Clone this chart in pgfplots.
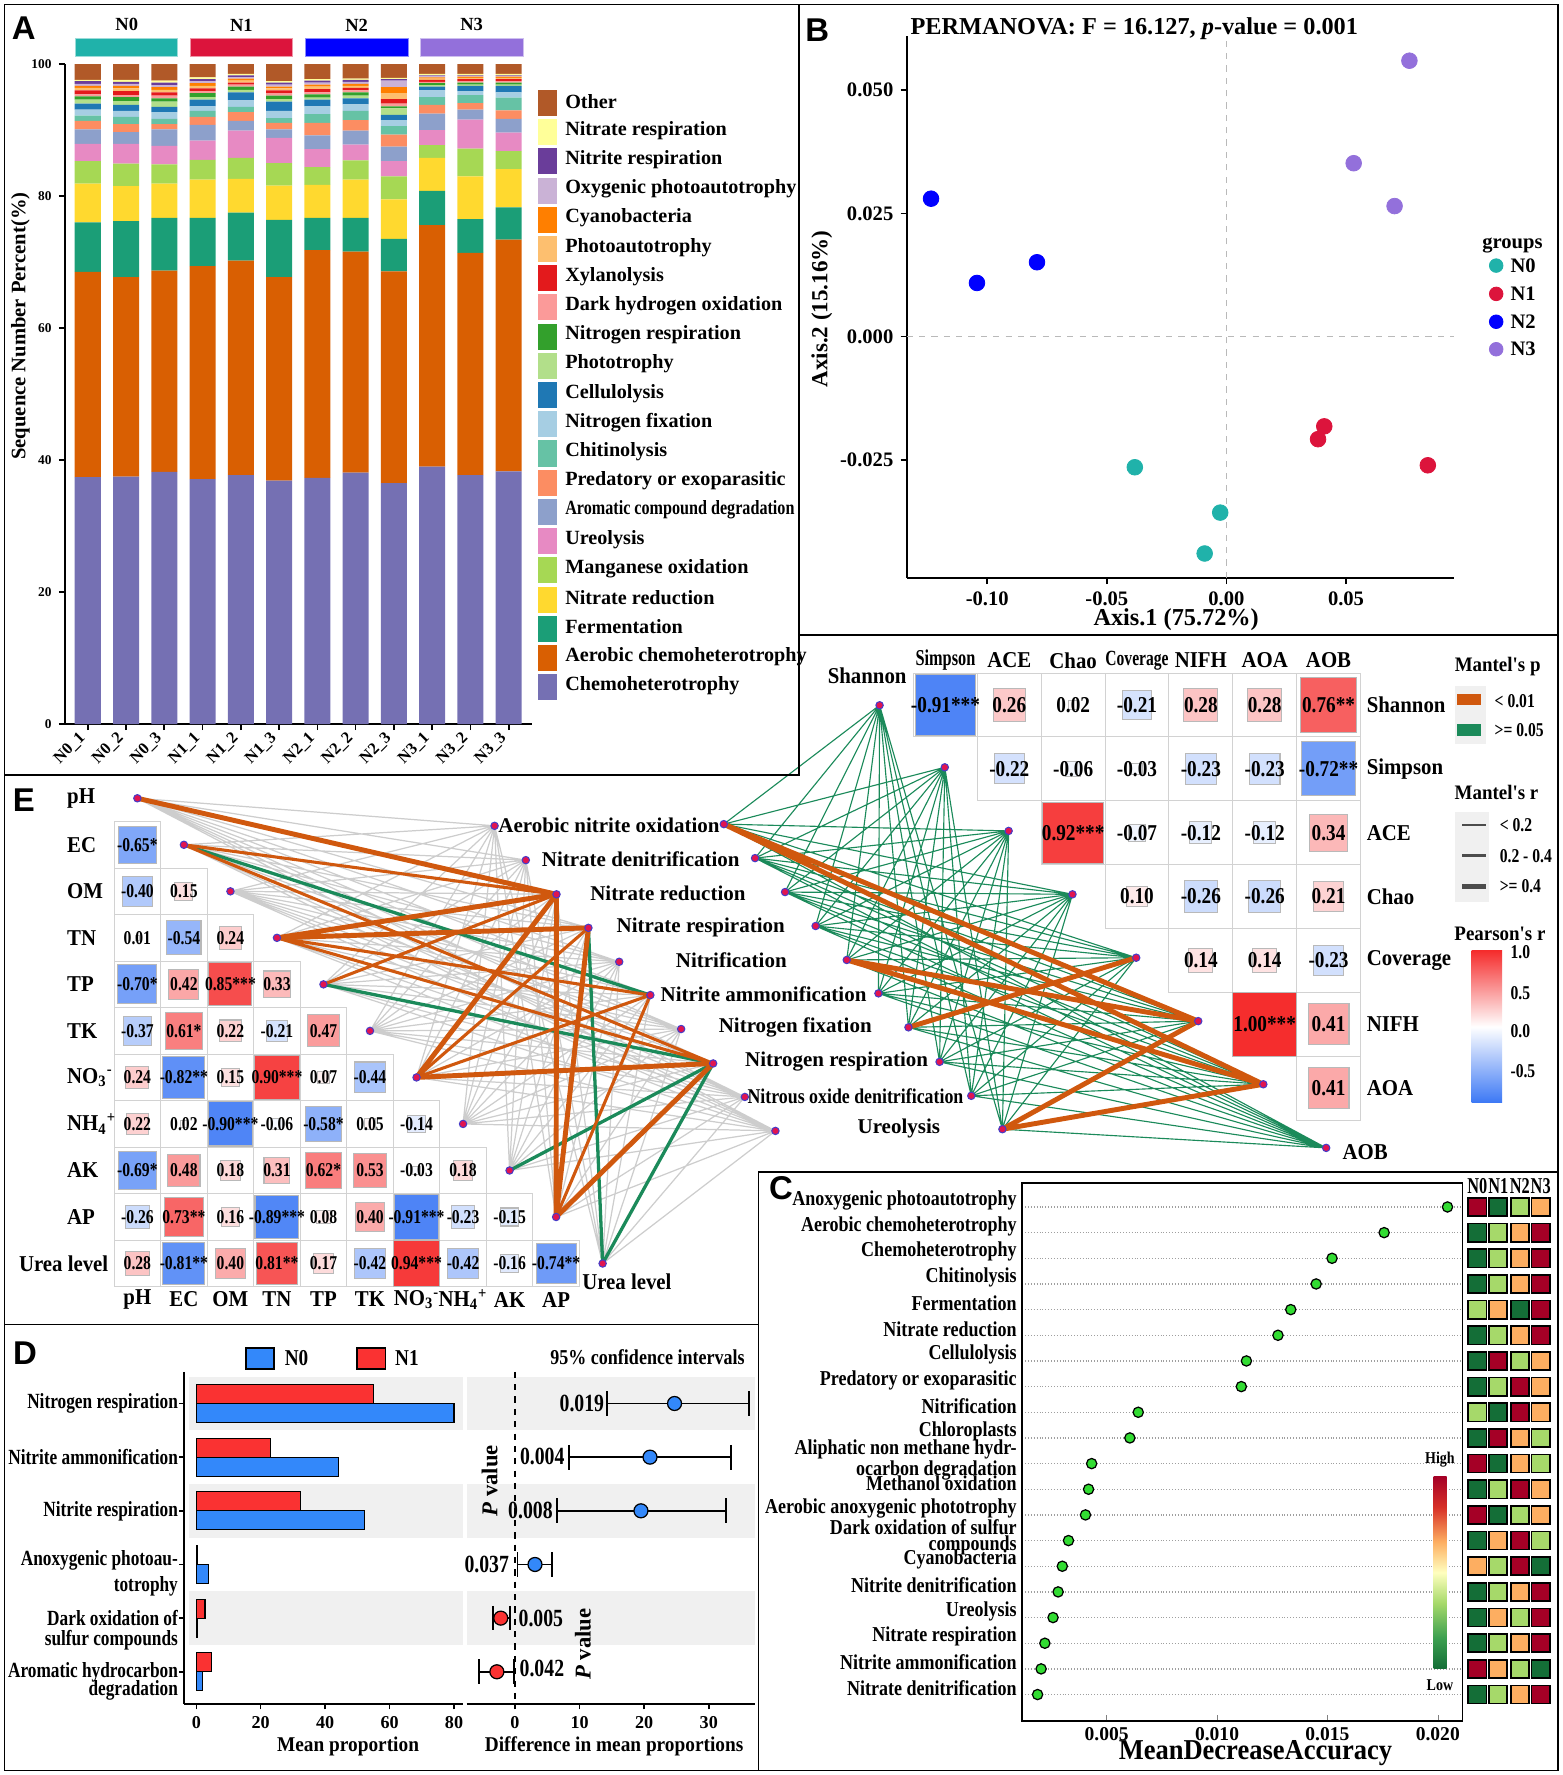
\documentclass[border=0pt]{standalone}
\usepackage{fontspec}
\setmainfont{Liberation Serif}
\newfontfamily\fSans{Liberation Sans}
\newfontfamily\fA[FakeStretch=0.92]{Liberation Serif}
\newfontfamily\fB[FakeStretch=0.85]{Liberation Serif}
\newfontfamily\fC[FakeStretch=0.8]{Liberation Serif}
\newfontfamily\fD[FakeStretch=0.72]{Liberation Serif}
\usepackage{pgfplots}
\usepackage{pgfplotstable}
\pgfplotsset{compat=1.18}
\newcommand\fs[1]{\fontsize{#1}{#1}\selectfont}

\definecolor{cOther}{HTML}{B15928}
\definecolor{cNitrateR}{HTML}{FFFF99}
\definecolor{cNitriteR}{HTML}{6A3D9A}
\definecolor{cOxy}{HTML}{CAB2D6}
\definecolor{cCyano}{HTML}{FF7F00}
\definecolor{cPhotoauto}{HTML}{FDBF6F}
\definecolor{cXylan}{HTML}{E31A1C}
\definecolor{cDarkH}{HTML}{FB9A99}
\definecolor{cNResp}{HTML}{33A02C}
\definecolor{cPhotot}{HTML}{B2DF8A}
\definecolor{cCellu}{HTML}{1F78B4}
\definecolor{cNfix}{HTML}{A6CEE3}
\definecolor{cChit}{HTML}{66C2A5}
\definecolor{cPred}{HTML}{FC8D62}
\definecolor{cArom}{HTML}{8DA0CB}
\definecolor{cUreo}{HTML}{E78AC3}
\definecolor{cMn}{HTML}{A6D854}
\definecolor{cNitRed}{HTML}{FFD92F}
\definecolor{cFerm}{HTML}{1B9E77}
\definecolor{cAer}{HTML}{D95F02}
\definecolor{cChemo}{HTML}{7570B3}
\definecolor{gN0}{HTML}{20B2AA}
\definecolor{gN1}{HTML}{DC143C}
\definecolor{gN2}{HTML}{0000FF}
\definecolor{gN3}{HTML}{9370DB}
\definecolor{eOrange}{RGB}{208,88,14}
\definecolor{eGreen}{RGB}{27,138,90}
\definecolor{eGray}{RGB}{205,205,205}
\definecolor{nodeF}{RGB}{225,20,80}
\definecolor{nodeD}{RGB}{70,60,200}
\definecolor{pBlue}{RGB}{60,120,245}
\definecolor{pRed}{RGB}{245,45,45}
\definecolor{hDk}{RGB}{20,110,55}
\definecolor{hMg}{RGB}{60,160,80}
\definecolor{hLt}{RGB}{166,217,106}
\definecolor{hYl}{RGB}{255,255,191}
\definecolor{hOr}{RGB}{253,174,97}
\definecolor{hRm}{RGB}{215,48,39}
\definecolor{hRd}{RGB}{165,0,38}
\definecolor{dotG}{RGB}{50,220,50}
\definecolor{dBlue}{RGB}{51,136,250}
\definecolor{dRed}{RGB}{250,50,50}
\definecolor{bandG}{RGB}{240,240,240}

\pgfdeclareverticalshading{hlshade}{100bp}{color(0bp)=(hDk); color(25bp)=(hDk); color(33bp)=(hMg); color(42bp)=(hLt); color(50bp)=(hYl); color(58bp)=(hOr); color(67bp)=(hRm); color(75bp)=(hRd); color(100bp)=(hRd)}
\pgfplotsset{colormap={pearson}{rgb255(0cm)=(60,120,245); rgb255(1cm)=(255,255,255); rgb255(2cm)=(245,45,45)}}

% network nodes (pixel coordinates of the layout)
\def\envN{121.35/705.15,162.45/746.25,203.55/787.35,244.65/828.45,285.75/869.55,326.85/910.65,367.95/951.75,409.05/992.85,450.15/1033.95,491.25/1075.05,532.35/1116.15}
\def\funL{436.9/729.5,464.5/759.8,491.6/790,519.8/819.6,547/849.6,574.5/879,601.7/909,630/939.4,658/969,685/999}
\def\funR{639.4/728,667/758,693.5/788,720.5/818,748/848,776/877.5,802.5/907.5,830/938,858/968,885.5/997.5}
\def\divN{777/623,834.6/677.8,891/734,947.4/790,1003.7/846,1058.5/902,1116/957.8,1171.5/1014}
\gdef\grayE{}
\foreach \ax/\ay in \envN {\foreach \bx/\by in \funL {\xdef\grayE{\grayE(\ax,\ay)(\bx,\by)(nan,nan)}}}
\gdef\greenE{}
\foreach \ax/\ay in \funR {\foreach \bx/\by in \divN {\xdef\greenE{\greenE(\ax,\ay)(\bx,\by)(nan,nan)}}}
\newcommand\edgeplot[2]{\addplot[#2] coordinates {#1};}

\pgfplotstableread{
x y r lab
835.2 622.8 -0.91 -0.91***
891.6 622.8 0.26 0.26
948 622.8 0.02 0.02
1004.4 622.8 -0.21 -0.21
1060.8 622.8 0.28 0.28
1117.2 622.8 0.28 0.28
1173.6 622.8 0.76 0.76**
891.6 679.2 -0.22 -0.22
948 679.2 -0.06 -0.06
1004.4 679.2 -0.03 -0.03
1060.8 679.2 -0.23 -0.23
1117.2 679.2 -0.23 -0.23
1173.6 679.2 -0.72 -0.72**
948 735.6 0.92 0.92***
1004.4 735.6 -0.07 -0.07
1060.8 735.6 -0.12 -0.12
1117.2 735.6 -0.12 -0.12
1173.6 735.6 0.34 0.34
1004.4 792 0.10 0.10
1060.8 792 -0.26 -0.26
1117.2 792 -0.26 -0.26
1173.6 792 0.21 0.21
1060.8 848.4 0.14 0.14
1117.2 848.4 0.14 0.14
1173.6 848.4 -0.23 -0.23
1117.2 904.8 1.00 1.00***
1173.6 904.8 0.41 0.41
1173.6 961.2 0.41 0.41
}\mantel

\pgfplotstableread{
x y r lab
121.35 746.25 -0.65 -0.65*
121.35 787.35 -0.40 -0.40
162.45 787.35 0.15 0.15
121.35 828.45 0.01 0.01
162.45 828.45 -0.54 -0.54
203.55 828.45 0.24 0.24
121.35 869.55 -0.70 -0.70*
162.45 869.55 0.42 0.42
203.55 869.55 0.85 0.85***
244.65 869.55 0.33 0.33
121.35 910.65 -0.37 -0.37
162.45 910.65 0.61 0.61*
203.55 910.65 0.22 0.22
244.65 910.65 -0.21 -0.21
285.75 910.65 0.47 0.47
121.35 951.75 0.24 0.24
162.45 951.75 -0.82 -0.82**
203.55 951.75 0.15 0.15
244.65 951.75 0.90 0.90***
285.75 951.75 0.07 0.07
326.85 951.75 -0.44 -0.44
121.35 992.85 0.22 0.22
162.45 992.85 0.02 0.02
203.55 992.85 -0.90 -0.90***
244.65 992.85 -0.06 -0.06
285.75 992.85 -0.58 -0.58*
326.85 992.85 0.05 0.05
367.95 992.85 -0.14 -0.14
121.35 1033.95 -0.69 -0.69*
162.45 1033.95 0.48 0.48
203.55 1033.95 0.18 0.18
244.65 1033.95 0.31 0.31
285.75 1033.95 0.62 0.62*
326.85 1033.95 0.53 0.53
367.95 1033.95 -0.03 -0.03
409.05 1033.95 0.18 0.18
121.35 1075.05 -0.26 -0.26
162.45 1075.05 0.73 0.73**
203.55 1075.05 0.16 0.16
244.65 1075.05 -0.89 -0.89***
285.75 1075.05 0.08 0.08
326.85 1075.05 0.40 0.40
367.95 1075.05 -0.91 -0.91***
409.05 1075.05 -0.23 -0.23
450.15 1075.05 -0.15 -0.15
121.35 1116.15 0.28 0.28
162.45 1116.15 -0.81 -0.81**
203.55 1116.15 0.40 0.40
244.65 1116.15 0.81 0.81**
285.75 1116.15 0.17 0.17
326.85 1116.15 -0.42 -0.42
367.95 1116.15 0.94 0.94***
409.05 1116.15 -0.42 -0.42
450.15 1116.15 -0.16 -0.16
491.25 1116.15 -0.74 -0.74**
}\etab

\pgfplotstableread{
i a b c d
0 r g l o
1 g l o r
2 g l o r
3 g l o r
4 l o g r
5 g l o r
6 g r l o
7 g l r o
8 l g r o
9 g r o l
10 r g o l
11 g l r o
12 r g l o
13 g o r l
14 o l r g
15 g l o r
16 g o l r
17 g l o r
18 r o l g
19 g l o r
}\heat

\pgfplotstableread{
i v
0 0.02044
1 0.01757
2 0.01521
3 0.01449
4 0.01334
5 0.01276
6 0.01133
7 0.01110
8 0.00643
9 0.00605
10 0.00432
11 0.00418
12 0.00404
13 0.00327
14 0.00299
15 0.00280
16 0.00257
17 0.00220
18 0.00203
19 0.00187
}\ctab

\begin{document}
\begin{tikzpicture}
\begin{scope}[x=0.55pt,y=-0.55pt]
\path[use as bounding box] (0,0) rectangle (1380,1568);
\foreach \i in {0,...,6}{\foreach \j in {\i,...,6}{\draw[gray!35, line width=0.5pt] ({807+56.4*\j},{594.6+56.4*\i}) rectangle ++(56.4,56.4);}}
\foreach \r in {0,...,9}{\foreach \cc in {0,...,\r}{\draw[gray!35, line width=0.5pt] ({100.8+41.1*\cc},{725.7+41.1*\r}) rectangle ++(41.1,41.1);}}
\end{scope}

% ---------- overlay axis in layout pixels ----------
\begin{axis}[at={(0pt,0pt)}, anchor=north west, scale only axis, width=759pt, height=862.4pt,
 xmin=0, xmax=1380, ymin=0, ymax=1568, y dir=reverse, axis lines=none, clip=false,
 unbounded coords=jump, filter discard warning=false, colormap name=pearson,
 point meta min=-1, point meta max=1]
\expandafter\edgeplot\expandafter{\grayE}{color=eGray, line width=0.6pt}
\expandafter\edgeplot\expandafter{\greenE}{color=eGreen, line width=0.55pt}
\addplot[eGreen, line width=1.6pt] coordinates {
(162.45,746.25)(574.5,879)(nan,nan)
(285.75,869.55)(630,939.4)(nan,nan)
(450.15,1033.95)(630,939.4)(nan,nan)
(532.35,1116.15)(519.8,819.6)(nan,nan)
(532.35,1116.15)(630,939.4)};
\addplot[eOrange, line width=1.5pt] coordinates {
(162.45,746.25)(491.6,790)(nan,nan)
(162.45,746.25)(630,939.4)(nan,nan)
(244.65,828.45)(574.5,879)(nan,nan)
(244.65,828.45)(630,939.4)(nan,nan)
(285.75,869.55)(491.6,790)(nan,nan)
(367.95,951.75)(519.8,819.6)(nan,nan)
(367.95,951.75)(574.5,879)(nan,nan)
(491.25,1075.05)(574.5,879)};
\addplot[eOrange, line width=2.4pt] coordinates {
(121.35,705.15)(491.6,790)(nan,nan)
(244.65,828.45)(491.6,790)(nan,nan)
(244.65,828.45)(519.8,819.6)(nan,nan)
(367.95,951.75)(491.6,790)(nan,nan)
(367.95,951.75)(630,939.4)(nan,nan)
(491.25,1075.05)(491.6,790)(nan,nan)
(491.25,1075.05)(519.8,819.6)(nan,nan)
(491.25,1075.05)(630,939.4)(nan,nan)
(639.4,728)(1058.5,902)(nan,nan)
(639.4,728)(1116,957.8)(nan,nan)
(748,848)(1058.5,902)(nan,nan)
(748,848)(1116,957.8)(nan,nan)
(802.5,907.5)(1003.7,846)(nan,nan)
(885.5,997.5)(1058.5,902)(nan,nan)
(885.5,997.5)(1116,957.8)};
\addplot[only marks, mark=*, mark size=1.8pt, mark options={fill=nodeF, draw=nodeD, line width=0.5pt}] coordinates {
(121.35,705.15)(162.45,746.25)(203.55,787.35)(244.65,828.45)(285.75,869.55)(326.85,910.65)(367.95,951.75)(409.05,992.85)(450.15,1033.95)(491.25,1075.05)(532.35,1116.15)
(436.9,729.5)(464.5,759.8)(491.6,790)(519.8,819.6)(547,849.6)(574.5,879)(601.7,909)(630,939.4)(658,969)(685,999)
(639.4,728)(667,758)(693.5,788)(720.5,818)(748,848)(776,877.5)(802.5,907.5)(830,938)(858,968)(885.5,997.5)
(777,623)(834.6,677.8)(891,734)(947.4,790)(1003.7,846)(1058.5,902)(1116,957.8)(1171.5,1014)};
% Mantel / Pearson squares
\addplot[scatter, only marks, mark=square*, line width=0.5pt, point meta=\thisrow{r},
 scatter/use mapped color={draw=gray!55, fill=mapped color},
 visualization depends on={15.51*sqrt(abs(\thisrow{r})) \as \msz},
 scatter/@pre marker code/.append style={/tikz/mark size=\msz}] table[x=x,y=y] {\mantel};
\addplot[draw=none, mark=none, nodes near coords, point meta=explicit symbolic, nodes near coords align={center},
 every node near coord/.append style={font=\fB\bfseries\fs{11}, inner sep=0pt, anchor=center}] table[x=x,y=y,meta=lab] {\mantel};
\addplot[scatter, only marks, mark=square*, line width=0.5pt, point meta=\thisrow{r},
 scatter/use mapped color={draw=gray!55, fill=mapped color},
 visualization depends on={11.30*sqrt(abs(\thisrow{r})) \as \msz},
 scatter/@pre marker code/.append style={/tikz/mark size=\msz}] table[x=x,y=y] {\etab};
\addplot[draw=none, mark=none, nodes near coords, point meta=explicit symbolic, nodes near coords align={center},
 every node near coord/.append style={font=\fC\bfseries\fs{9.5}, inner sep=0pt, anchor=center}] table[x=x,y=y,meta=lab] {\etab};
% C heatmap
\pgfplotsset{hcls/.style={scatter, only marks, mark=square*, mark size=4.4pt, line width=0.8pt, scatter src=explicit symbolic,
 scatter/classes={g={mark=square*, fill=hDk, draw=black}, l={mark=square*, fill=hLt, draw=black}, o={mark=square*, fill=hOr, draw=black}, r={mark=square*, fill=hRd, draw=black}}}}
\addplot[hcls] table[x expr=1305, y expr=1066.2+22.67*\thisrow{i}, meta=a] {\heat};
\addplot[hcls] table[x expr=1323.5, y expr=1066.2+22.67*\thisrow{i}, meta=b] {\heat};
\addplot[hcls] table[x expr=1342.5, y expr=1066.2+22.67*\thisrow{i}, meta=c] {\heat};
\addplot[hcls] table[x expr=1361, y expr=1066.2+22.67*\thisrow{i}, meta=d] {\heat};
% B legend markers
\addplot[only marks, mark=*, mark size=3.3pt, color=gN0] coordinates {(1321.7,234.6)};
\addplot[only marks, mark=*, mark size=3.3pt, color=gN1] coordinates {(1321.7,259.6)};
\addplot[only marks, mark=*, mark size=3.3pt, color=gN2] coordinates {(1321.7,284.2)};
\addplot[only marks, mark=*, mark size=3.3pt, color=gN3] coordinates {(1321.7,308.5)};
\end{axis}

% ---------- A: stacked bars ----------
\begin{axis}[at={(31.57pt,-351.78pt)}, anchor=south west, scale only axis, width=226.93pt, height=320.65pt,
 xmin=-0.595, xmax=11.61, ymin=0, ymax=100, ybar stacked, bar width=0.68,
 axis x line=bottom, axis y line=left, axis line style={-, line width=1pt},
 xtick={0,...,11}, xticklabels={N0\_1,N0\_2,N0\_3,N1\_1,N1\_2,N1\_3,N2\_1,N2\_2,N2\_3,N3\_1,N3\_2,N3\_3},
 xticklabel style={rotate=45, anchor=east, font=\bfseries\fs{8}},
 ytick={0,20,40,60,80,100}, yticklabels={0,20,40,60,80,100}, yticklabel style={font=\bfseries\fs{6.5}},
 tick align=outside, major tick length=3pt, tick style={black, line width=0.8pt}, clip=false]
\addplot[fill=cChemo, draw=none] coordinates {(0,37.4)(1,37.5)(2,38.2)(3,37.1)(4,37.7)(5,36.9)(6,37.3)(7,38.1)(8,36.5)(9,39.0)(10,37.7)(11,38.3)};
\addplot[fill=cAer, draw=none] coordinates {(0,31.1)(1,30.2)(2,30.5)(3,32.3)(4,32.5)(5,30.8)(6,34.5)(7,33.5)(8,32.1)(9,36.6)(10,33.7)(11,35.1)};
\addplot[fill=cFerm, draw=none] coordinates {(0,7.5)(1,8.5)(2,8.0)(3,7.3)(4,7.3)(5,8.7)(6,4.9)(7,5.1)(8,4.9)(9,5.2)(10,5.1)(11,4.9)};
\addplot[fill=cNitRed, draw=none] coordinates {(0,5.9)(1,5.3)(2,5.2)(3,5.8)(4,5.1)(5,5.2)(6,5.0)(7,5.8)(8,6.0)(9,5.0)(10,6.5)(11,5.8)};
\addplot[fill=cMn, draw=none] coordinates {(0,3.4)(1,3.4)(2,2.9)(3,3.0)(4,3.2)(5,3.4)(6,2.7)(7,2.9)(8,3.5)(9,1.9)(10,4.2)(11,2.7)};
\addplot[fill=cUreo, draw=none] coordinates {(0,2.6)(1,3.0)(2,2.8)(3,2.9)(4,4.1)(5,3.8)(6,2.7)(7,2.4)(8,2.3)(9,2.3)(10,4.4)(11,2.8)};
\addplot[fill=cArom, draw=none] coordinates {(0,2.2)(1,1.8)(2,2.5)(3,2.4)(4,1.5)(5,1.3)(6,2.1)(7,2.1)(8,2.2)(9,2.5)(10,1.5)(11,2.1)};
\addplot[fill=cPred, draw=none] coordinates {(0,1.3)(1,1.2)(2,0.8)(3,1.2)(4,1.3)(5,1.0)(6,1.9)(7,1.6)(8,1.8)(9,1.3)(10,1.0)(11,1.3)};
\addplot[fill=cChit, draw=none] coordinates {(0,0.8)(1,1.1)(2,0.8)(3,0.9)(4,0.8)(5,0.7)(6,1.3)(7,1.4)(8,1.3)(9,1.2)(10,1.2)(11,1.9)};
\addplot[fill=cNfix, draw=none] coordinates {(0,0.9)(1,0.9)(2,1.0)(3,0.7)(4,1.0)(5,1.1)(6,1.2)(7,1.0)(8,0.9)(9,1.0)(10,0.6)(11,0.8)};
\addplot[fill=cCellu, draw=none] coordinates {(0,0.9)(1,0.9)(2,0.8)(3,1.0)(4,1.2)(5,1.4)(6,1.0)(7,0.9)(8,0.8)(9,0.6)(10,0.8)(11,1.0)};
\addplot[fill=cPhotot, draw=none] coordinates {(0,0.6)(1,0.6)(2,0.8)(3,0.4)(4,0.4)(5,0.4)(6,0.3)(7,0.4)(8,1.0)(9,0.2)(10,0.2)(11,0.2)};
\addplot[fill=cNResp, draw=none] coordinates {(0,0.5)(1,0.6)(2,0.5)(3,0.6)(4,0.5)(5,0.5)(6,0.5)(7,0.5)(8,0.3)(9,0.3)(10,0.3)(11,0.3)};
\addplot[fill=cDarkH, draw=none] coordinates {(0,0.3)(1,0.3)(2,0.4)(3,0.3)(4,0.3)(5,0.4)(6,0.3)(7,0.3)(8,0.4)(9,0.2)(10,0.2)(11,0.2)};
\addplot[fill=cXylan, draw=none] coordinates {(0,0.6)(1,0.6)(2,0.5)(3,0.4)(4,0.3)(5,0.4)(6,0.5)(7,0.4)(8,0.7)(9,0.3)(10,0.3)(11,0.3)};
\addplot[fill=cPhotoauto, draw=none] coordinates {(0,0.4)(1,0.4)(2,0.4)(3,0.4)(4,0.3)(5,0.3)(6,0.4)(7,0.3)(8,0.9)(9,0.2)(10,0.2)(11,0.2)};
\addplot[fill=cCyano, draw=none] coordinates {(0,0.3)(1,0.4)(2,0.4)(3,0.4)(4,0.3)(5,0.3)(6,0.3)(7,0.3)(8,0.9)(9,0.2)(10,0.2)(11,0.2)};
\addplot[fill=cOxy, draw=none] coordinates {(0,0.3)(1,0.3)(2,0.3)(3,0.3)(4,0.2)(5,0.3)(6,0.3)(7,0.3)(8,1.0)(9,0.2)(10,0.1)(11,0.1)};
\addplot[fill=cNitriteR, draw=none] coordinates {(0,0.4)(1,0.3)(2,0.4)(3,0.3)(4,0.3)(5,0.3)(6,0.3)(7,0.3)(8,0.2)(9,0.1)(10,0.1)(11,0.1)};
\addplot[fill=cNitrateR, draw=none] coordinates {(0,0.2)(1,0.3)(2,0.3)(3,0.3)(4,0.2)(5,0.2)(6,0.2)(7,0.2)(8,0.2)(9,0.2)(10,0.2)(11,0.2)};
\addplot[fill=cOther, draw=none] coordinates {(0,2.4)(1,2.4)(2,2.5)(3,2.0)(4,1.5)(5,2.6)(6,2.3)(7,2.2)(8,2.1)(9,1.5)(10,1.5)(11,1.5)};
\end{axis}

% ---------- B: PCoA ----------
\begin{axis}[at={(440.55pt,-280.775pt)}, anchor=south west, scale only axis, width=265.65pt, height=263.23pt,
 xmin=-0.13365, xmax=0.09494, ymin=-0.04895, ymax=0.06099,
 axis x line=bottom, axis y line=left, axis line style={-, line width=0.9pt},
 xtick={-0.1,-0.05,0,0.05}, xticklabels={-0.10,-0.05,0.00,0.05},
 ytick={-0.025,0,0.025,0.05}, yticklabels={-0.025,0.000,0.025,0.050},
 tick label style={font=\bfseries\fs{10}}, tick align=outside, major tick length=3pt,
 tick style={black, line width=0.8pt}, scaled ticks=false, clip=false]
\addplot[gray!55, dashed, line width=0.5pt] coordinates {(0,-0.04895) (0,0.06099)};
\addplot[gray!55, dashed, line width=0.5pt] coordinates {(-0.13365,0) (0.09494,0)};
\addplot[only marks, mark=*, mark size=3.8pt, color=gN0] coordinates {(-0.0383,-0.0265) (-0.0026,-0.0357) (-0.0091,-0.0440)};
\addplot[only marks, mark=*, mark size=3.8pt, color=gN1] coordinates {(0.0409,-0.0182) (0.0383,-0.0208) (0.0842,-0.0261)};
\addplot[only marks, mark=*, mark size=3.8pt, color=gN2] coordinates {(-0.1235,0.0280) (-0.1043,0.0109) (-0.0792,0.0151)};
\addplot[only marks, mark=*, mark size=3.8pt, color=gN3] coordinates {(0.0765,0.0560) (0.0532,0.0352) (0.0703,0.0265)};
\end{axis}

% ---------- C: importance ----------
\begin{axis}[at={(496.65pt,-836pt)}, anchor=south west, scale only axis, width=213.95pt, height=261.25pt,
 xmin=0.001174, xmax=0.021123, ymin=-0.935, ymax=20.018, y dir=reverse,
 axis line style={line width=0.8pt},
 xtick={0.005,0.01,0.015,0.02}, xticklabels={0.005,0.010,0.015,0.020}, xtick pos=bottom,
 ytick={0,...,19}, yticklabels={}, ytick style={draw=none},
 ymajorgrids, grid style={densely dotted, gray!75, line width=0.6pt},
 tick label style={font=\bfseries\fs{9.5}}, tick align=inside, major tick length=3pt,
 scaled ticks=false, clip=false]
\addplot[only marks, mark=*, mark size=2.5pt, mark options={fill=dotG, draw=black, line width=0.6pt}] table[x=v, y=i] {\ctab};
\end{axis}

% ---------- D: left bars ----------
\begin{axis}[at={(89.485pt,-828.025pt)}, anchor=south west, scale only axis, width=135.355pt, height=161.535pt,
 xmin=-3.76, xmax=82.71, ymin=-0.591, ymax=5.605, y dir=reverse,
 axis x line=bottom, axis y line=left, axis line style={-, line width=0.9pt},
 xtick={0,20,40,60,80}, xticklabels={0,20,40,60,80}, ytick={0,...,5}, yticklabels={},
 tick label style={font=\bfseries\fs{8.8}}, tick align=outside, major tick length=2.5pt,
 tick style={black, line width=0.7pt}, clip=false]
\fill[bandG] (axis cs:-2.4,-0.5) rectangle (axis cs:82.71,0.5);
\fill[bandG] (axis cs:-2.4,1.5) rectangle (axis cs:82.71,2.5);
\fill[bandG] (axis cs:-2.4,3.5) rectangle (axis cs:82.71,4.5);
\addplot[xbar, bar width=0.354, bar shift=0pt, fill=dRed, draw=black, line width=0.6pt] coordinates {(54.9,-0.177) (23.0,0.823) (32.4,1.823) (0.3,2.823) (2.7,3.823) (4.8,4.823)};
\addplot[xbar, bar width=0.354, bar shift=0pt, fill=dBlue, draw=black, line width=0.6pt] coordinates {(80.0,0.177) (44.2,1.177) (52.2,2.177) (3.8,3.177) (0.2,4.177) (2.0,5.177)};
\end{axis}

% ---------- D: right CI ----------
\begin{axis}[at={(226.765pt,-828.025pt)}, anchor=south west, scale only axis, width=140.085pt, height=161.535pt,
 xmin=-7.465, xmax=37.16, ymin=-0.591, ymax=5.605, y dir=reverse,
 axis x line=bottom, axis y line=none, axis line style={-, line width=0.9pt},
 xtick={0,10,20,30}, xticklabels={0,10,20,30}, ytick=\empty,
 tick label style={font=\bfseries\fs{8.8}}, tick align=outside, major tick length=2.5pt,
 tick style={black, line width=0.7pt}, clip=false]
\fill[bandG] (axis cs:-7.465,-0.5) rectangle (axis cs:37.16,0.5);
\fill[bandG] (axis cs:-7.465,1.5) rectangle (axis cs:37.16,2.5);
\fill[bandG] (axis cs:-7.465,3.5) rectangle (axis cs:37.16,4.5);
\addplot[black, dashed, line width=0.8pt] coordinates {(0,-0.591) (0,5.605)};
\addplot[black, line width=0.9pt, mark=|, mark size=6pt, mark options={solid, line width=0.9pt}] coordinates {(14.2,0) (36.2,0)};
\addplot[black, line width=0.9pt, mark=|, mark size=6pt, mark options={solid, line width=0.9pt}] coordinates {(8.4,1) (33.5,1)};
\addplot[black, line width=0.9pt, mark=|, mark size=6pt, mark options={solid, line width=0.9pt}] coordinates {(6.5,2) (32.6,2)};
\addplot[black, line width=0.9pt, mark=|, mark size=6pt, mark options={solid, line width=0.9pt}] coordinates {(0.4,3) (5.7,3)};
\addplot[black, line width=0.9pt, mark=|, mark size=6pt, mark options={solid, line width=0.9pt}] coordinates {(-3.4,4) (-0.75,4)};
\addplot[black, line width=0.9pt, mark=|, mark size=6pt, mark options={solid, line width=0.9pt}] coordinates {(-5.6,5) (-0.15,5)};
\addplot[only marks, mark=*, mark size=3.4pt, mark options={fill=dBlue, draw=black, line width=0.6pt}] coordinates {(24.7,0) (20.9,1) (19.5,2) (3.1,3)};
\addplot[only marks, mark=*, mark size=3.4pt, mark options={fill=dRed, draw=black, line width=0.6pt}] coordinates {(-2.2,4) (-2.8,5)};
\end{axis}

% ---------- texts and frames ----------
\begin{scope}[x=0.55pt,y=-0.55pt, every node/.style={inner sep=0pt}]
\draw[line width=0.9pt] (4,4) rectangle (1376,1564);
\draw[line width=0.9pt] (706,4) -- (706,684.5) -- (4,684.5);
\draw[line width=0.9pt] (706,561) -- (1376,561);
\draw[line width=0.9pt] (4,1170) -- (670,1170);
\draw[line width=0.9pt] (670,1564) -- (670,1035.5) -- (1376,1035.5);
\node[font=\fSans\bfseries\fs{16}] at (21,25) {A};
\node[font=\fSans\bfseries\fs{16}] at (722,27) {B};
\node[font=\fSans\bfseries\fs{16}] at (690,1050) {C};
\node[font=\fSans\bfseries\fs{16}] at (22,1195) {D};
\node[font=\fSans\bfseries\fs{16}] at (21,707) {E};
% A
\filldraw[fill=gN0, draw=gN0!45!white, line width=0.4pt] (66.3,34) rectangle (157,49.5);
\filldraw[fill=gN1, draw=gN1!45!white, line width=0.4pt] (167.9,34) rectangle (258.6,49.5);
\filldraw[fill=gN2, draw=gN2!45!white, line width=0.4pt] (269.5,34) rectangle (360.7,49.5);
\filldraw[fill=gN3, draw=gN3!45!white, line width=0.4pt] (371,34) rectangle (462.3,49.5);
\node[font=\bfseries\fs{9}] at (112,22) {N0};
\node[font=\bfseries\fs{9}] at (213.2,22) {N1};
\node[font=\bfseries\fs{9}] at (315,22) {N2};
\node[font=\bfseries\fs{9}] at (416.6,22) {N3};
\node[rotate=90, font=\bfseries\fs{10}] at (18,288) {Sequence Number Percent(\%)};
\foreach \k/\cc/\nn in {0/cOther/Other,1/cNitrateR/Nitrate respiration,2/cNitriteR/Nitrite respiration,3/cOxy/Oxygenic photoautotrophy,4/cCyano/Cyanobacteria,5/cPhotoauto/Photoautotrophy,6/cXylan/Xylanolysis,7/cDarkH/Dark hydrogen oxidation,8/cNResp/Nitrogen respiration,9/cPhotot/Phototrophy,10/cCellu/Cellulolysis,11/cNfix/Nitrogen fixation,12/cChit/Chitinolysis,13/cPred/Predatory or exoparasitic,14/cArom/{\fC Aromatic compound degradation},15/cUreo/Ureolysis,16/cMn/Manganese oxidation,17/cNitRed/Nitrate reduction,18/cFerm/Fermentation,19/cAer/Aerobic chemoheterotrophy,20/cChemo/Chemoheterotrophy}
{\fill[\cc] (475,{79.5+25.8*\k}) rectangle (492,{102.5+25.8*\k});
 \node[anchor=west, font=\bfseries\fs{9.8}] at (499,{89.5+25.8*\k}) {\nn};}
% B
\node[font=\bfseries\fs{11.8}] at (1002,25) {PERMANOVA: F = 16.127, \textit{p}-value = 0.001};
\node[font=\bfseries\fs{11.8}] at (1039,547) {Axis.1 (75.72\%)};
\node[rotate=90, font=\bfseries\fs{11.2}] at (726,273) {Axis.2 (15.16\%)};
\node[font=\bfseries\fs{10}] at (1336,217) {groups};
\foreach \nn/\yy in {N0/234.6,N1/259.6,N2/284.2,N3/308.5} \node[anchor=west,font=\bfseries\fs{10}] at (1334,\yy) {\nn};
% Mantel heatmap labels
\node[font=\fD\bfseries\fs{11}] at (835.2,583.4) {Simpson};
\node[font=\fA\bfseries\fs{11}] at (891.6,583.4) {ACE};
\node[font=\fA\bfseries\fs{11}] at (948,583.4) {Chao};
\node[font=\fD\bfseries\fs{10.5}] at (1004.4,583.4) {Coverage};
\node[font=\fA\bfseries\fs{11}] at (1060.8,583.4) {NIFH};
\node[font=\fA\bfseries\fs{11}] at (1117.2,583.4) {AOA};
\node[font=\fA\bfseries\fs{11}] at (1173.6,583.4) {AOB};
\foreach \nn/\yy in {Shannon/622.8,Simpson/679.2,ACE/735.6,Chao/792,Coverage/848.4,NIFH/904.8,AOA/961.2} \node[anchor=west,font=\fA\bfseries\fs{11}] at (1207,\yy) {\nn};
\node[font=\fA\bfseries\fs{11}] at (766,597) {Shannon};
\node[font=\fA\bfseries\fs{11}] at (1206,1018) {AOB};
% Mantel legend
\node[font=\fA\bfseries\fs{10}] at (1323,589) {Mantel's p};
\fill[gray!12] (1285,606) rectangle (1313,657);
\fill[eOrange] (1287.5,613) rectangle (1308.5,623);
\fill[eGreen] (1287.5,640) rectangle (1308.5,650);
\node[anchor=west, font=\fC\bfseries\fs{9.5}] at (1320,619) {< 0.01};
\node[anchor=west, font=\fC\bfseries\fs{9.5}] at (1320,645) {>= 0.05};
\node[font=\fA\bfseries\fs{10}] at (1322,700) {Mantel's r};
\fill[gray!12] (1285,717) rectangle (1315,797);
\draw[black!70, line width=0.8pt] (1291.8,729) -- (1312.8,729);
\draw[black!70, line width=1.6pt] (1291.8,756) -- (1312.8,756);
\draw[black!70, line width=2.6pt] (1291.8,783) -- (1312.8,783);
\node[anchor=west, font=\fC\bfseries\fs{9.5}] at (1324.5,729) {< 0.2};
\node[anchor=west, font=\fC\bfseries\fs{9.5}] at (1324.5,756) {0.2 - 0.4};
\node[anchor=west, font=\fC\bfseries\fs{9.5}] at (1324.5,783) {>= 0.4};
\node[font=\fA\bfseries\fs{10}] at (1325,825) {Pearson's r};
\shade[bottom color=pBlue, top color=pRed, middle color=white] (1300,840) rectangle (1327,974);
\node[anchor=west, font=\fC\bfseries\fs{9.5}] at (1334,841) {1.0};
\node[anchor=west, font=\fC\bfseries\fs{9.5}] at (1334,877) {0.5};
\node[anchor=west, font=\fC\bfseries\fs{9.5}] at (1334,911) {0.0};
\node[anchor=west, font=\fC\bfseries\fs{9.5}] at (1334,946) {-0.5};
% E labels
\foreach \nn/\yy in {pH/705.15,EC/746.25,OM/787.35,TN/828.45,TP/869.55,TK/910.65,NO\textsubscript{3}\textsuperscript{-}/951.75,NH\textsubscript{4}\textsuperscript{+}/992.85,AK/1033.95,AP/1075.05}
 \node[anchor=west, font=\fA\bfseries\fs{11}] at (59,\yy) {\nn};
\node[anchor=east, font=\fA\bfseries\fs{11}] at (96,1116.15) {Urea level};
\foreach \nn/\xx in {pH/121.35,EC/162.45,OM/203.55,TN/244.65,TP/285.75,TK/326.85,NO\textsubscript{3}\textsuperscript{-}/367.95,NH\textsubscript{4}\textsuperscript{+}/409.05,AK/450.15,AP/491.25}
 \node[font=\fA\bfseries\fs{11}] at (\xx,1148) {\nn};
\node[anchor=west, font=\fA\bfseries\fs{11}] at (514,1132) {Urea level};
% function labels
\node[font=\bfseries\fs{10.2}] at (538,729) {Aerobic nitrite oxidation};
\node[font=\bfseries\fs{10.2}] at (566,759) {Nitrate denitrification};
\node[font=\bfseries\fs{10.2}] at (590,789) {Nitrate reduction};
\node[font=\bfseries\fs{10.2}] at (619,819) {Nitrate respiration};
\node[font=\bfseries\fs{10.2}] at (646,848) {Nitrification};
\node[font=\bfseries\fs{10.2}] at (674.5,878) {Nitrite ammonification};
\node[font=\bfseries\fs{10.2}] at (702.5,908) {Nitrogen fixation};
\node[font=\bfseries\fs{10.2}] at (739,938) {Nitrogen respiration};
\node[font=\fB\bfseries\fs{10.2}] at (755.7,968) {Nitrous oxide denitrification};
\node[font=\bfseries\fs{10.2}] at (794,997) {Ureolysis};
% C labels
\foreach \i/\nn in {0/Anoxygenic photoautotrophy,1/Aerobic chemoheterotrophy,2/Chemoheterotrophy,3/Chitinolysis,4/Fermentation,5/Nitrate reduction,6/Cellulolysis,7/Predatory or exoparasitic,8/Nitrification,9/Chloroplasts,11/Methanol oxidation,12/Aerobic anoxygenic phototrophy,14/Cyanobacteria,15/Nitrite denitrification,16/Ureolysis,17/Nitrate respiration,18/Nitrite ammonification,19/Nitrate denitrification}
 \node[anchor=east, font=\fB\bfseries\fs{10.3}] at (898.5,{1060.5+22.67*\i}) {\nn};
\node[anchor=east, align=right, font=\fB\bfseries\fontsize{10.3}{8}\selectfont] at (898.5,1289.5) {Aliphatic non methane hydr-\\ocarbon degradation};
\node[anchor=east, align=right, font=\fB\bfseries\fontsize{10.3}{8}\selectfont] at (898.5,1358) {Dark oxidation of sulfur\\compounds};
\node[font=\fD\bfseries\fs{11}] at (1305,1047.4) {N0};
\node[font=\fD\bfseries\fs{11}] at (1323.5,1047.4) {N1};
\node[font=\fD\bfseries\fs{11}] at (1342.5,1047.4) {N2};
\node[font=\fD\bfseries\fs{11}] at (1361,1047.4) {N3};
\node[font=\fB\bfseries\fs{8}] at (1272,1289) {High};
\node[font=\fB\bfseries\fs{8}] at (1272,1488.7) {Low};
\shade[shading=hlshade] (1266.4,1304.4) rectangle (1277.8,1473.9);
\node[font=\fA\bfseries\fs{14}] at (1109,1549) {MeanDecreaseAccuracy};
% D labels
\node[anchor=east, font=\fC\bfseries\fs{10.5}] at (157.5,1239.8) {Nitrogen respiration};
\node[anchor=east, font=\fC\bfseries\fs{10.5}] at (157.5,1287) {Nitrite ammonification};
\node[anchor=east, font=\fC\bfseries\fs{10.5}] at (157.5,1334.7) {Nitrite respiration};
\node[anchor=east, font=\fC\bfseries\fs{10.5}] at (157.5,1378) {Anoxygenic photoau-};
\node[anchor=east, font=\fC\bfseries\fs{10.5}] at (157.5,1401.6) {totrophy};
\node[anchor=east, font=\fC\bfseries\fs{10.5}] at (157.5,1429.7) {Dark oxidation of};
\node[anchor=east, font=\fC\bfseries\fs{10.5}] at (157.5,1449) {sulfur compounds};
\node[anchor=east, font=\fC\bfseries\fs{10.5}] at (157.5,1476.9) {Aromatic hydrocarbon};
\node[anchor=east, font=\fC\bfseries\fs{10.5}] at (157.5,1493) {degradation};
\filldraw[fill=dBlue, draw=black, line width=0.8pt] (217.4,1191) rectangle (242.3,1209.6);
\node[font=\fB\bfseries\fs{11}] at (262,1200) {N0};
\filldraw[fill=dRed, draw=black, line width=0.8pt] (315.5,1191) rectangle (340.4,1209.6);
\node[font=\fB\bfseries\fs{11}] at (359.5,1200) {N1};
\node[font=\fB\bfseries\fs{10.3}] at (572,1199) {95\% confidence intervals};
\node[font=\fA\bfseries\fs{10.2}] at (307.5,1543) {Mean proportion};
\node[font=\fA\bfseries\fs{10.2}] at (542.5,1543) {Difference in mean proportions};
\node[font=\fC\bfseries\fs{12}] at (514,1240) {0.019};
\node[font=\fC\bfseries\fs{12}] at (479,1287) {0.004};
\node[font=\fC\bfseries\fs{12}] at (468.6,1334.7) {0.008};
\node[font=\fC\bfseries\fs{12}] at (430,1382) {0.037};
\node[font=\fC\bfseries\fs{12}] at (477.8,1429.7) {0.005};
\node[font=\fC\bfseries\fs{12}] at (478.7,1474) {0.042};
\node[rotate=90, font=\bfseries\fs{11}] at (432.5,1308) {\textit{P} value};
\node[rotate=90, font=\bfseries\fs{11}] at (515,1452.5) {\textit{P} value};
\end{scope}
\end{tikzpicture}
\end{document}
